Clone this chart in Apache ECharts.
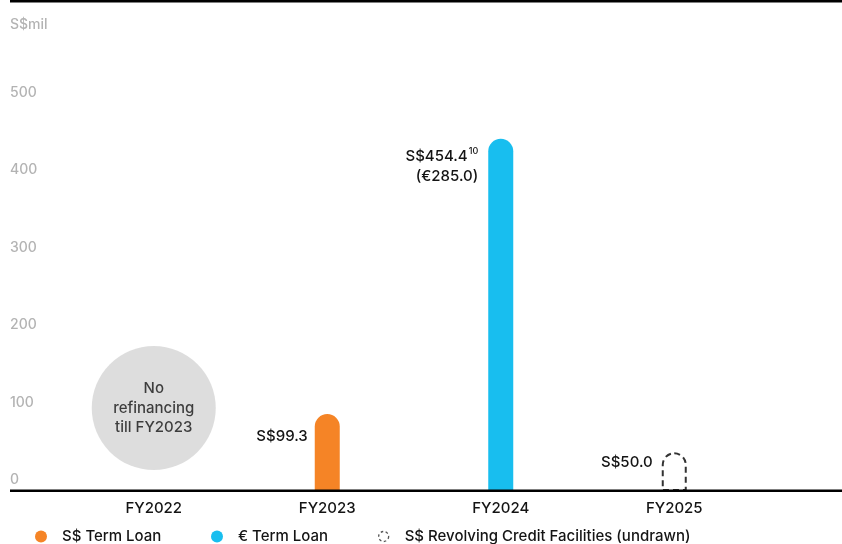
<!DOCTYPE html>
<html>
<head>
<meta charset="utf-8">
<style>
  html, body { margin: 0; padding: 0; background: #ffffff; }
  #chart { width: 842px; height: 544px; }
</style>
<script src="https://cdn.jsdelivr.net/npm/echarts@6/dist/echarts.min.js"></script>
</head>
<body>
<div id="chart"></div>
<script>
// Debt maturity profile, S$ million
const categories = ['FY2022', 'FY2023', 'FY2024', 'FY2025'];
const sgdTermLoan = ['-', 99.3, '-', '-'];
const eurTermLoan = ['-', '-', 454.4, '-'];
const revolvingUndrawn = ['-', '-', '-', 50.0];
const eurTermLoanEuro = 285.0;
const yTicks = [0, 100, 200, 300, 400, 500];
const seriesNames = ['S$ Term Loan', '€ Term Loan', 'S$ Revolving Credit Facilities (undrawn)'];
const noteText = 'No\nrefinancing\ntill FY2023';
const notePoint = ['FY2022', 107];

const FONT = 'Inter, "Noto Sans", sans-serif';
const INK = '#141414';
const chart = echarts.init(document.getElementById('chart'));

const legendBase = {
  top: 529, padding: 0, itemWidth: 32, itemHeight: 12, icon: 'circle',
  textStyle: { fontFamily: FONT, fontSize: 15, fontWeight: 500, color: INK },
  selectedMode: false
};

chart.setOption({
  animation: false,
  textStyle: { fontFamily: FONT },
  title: {
    text: 'S$mil', left: 10, top: 18, padding: 0,
    textStyle: { fontFamily: FONT, fontSize: 14, fontWeight: 500, color: '#b3b3b3' }
  },
  grid: { left: 67, right: 81, top: 103.5, bottom: 53 },
  xAxis: {
    type: 'category', data: categories,
    axisLine: { show: false }, axisTick: { show: false },
    axisLabel: { margin: 10, fontSize: 15, fontWeight: 500, color: INK, fontFamily: FONT }
  },
  yAxis: {
    type: 'value', min: yTicks[0], max: yTicks[yTicks.length - 1], interval: 100,
    axisLine: { show: false }, axisTick: { show: false }, splitLine: { show: false },
    axisLabel: {
      align: 'left', margin: 57, verticalAlign: 'bottom', padding: [0, 0, 4, 0],
      fontSize: 14, fontWeight: 500, color: '#b3b3b3', fontFamily: FONT
    }
  },
  legend: [
    Object.assign({ left: 35, data: [seriesNames[0]] }, legendBase),
    Object.assign({ left: 211, data: [seriesNames[1]] }, legendBase),
    Object.assign({
      left: 378,
      data: [{
        name: seriesNames[2], icon: 'circle',
        itemStyle: { color: '#ffffff', borderColor: '#555555', borderWidth: 1.3, borderType: [2.5, 2.5] }
      }]
    }, legendBase, { itemHeight: 10 })
  ],
  graphic: [
    { type: 'rect', left: 10, top: 0, shape: { width: 832, height: 2.5 }, style: { fill: '#000' }, z: 10 },
    { type: 'rect', left: 10, top: 489.5, shape: { width: 832, height: 2.5 }, style: { fill: '#000' }, z: 10 }
  ],
  series: [
    {
      name: 'note', type: 'scatter', data: [notePoint], symbolSize: 124, silent: true,
      itemStyle: { color: '#d4d4d4' },
      label: {
        show: true, position: 'inside', formatter: noteText,
        fontSize: 15, fontWeight: 500, lineHeight: 19.5, color: INK, fontFamily: FONT
      }
    },
    {
      name: seriesNames[0], type: 'bar', stack: 'debt', barWidth: 25, data: sgdTermLoan,
      itemStyle: { color: '#F58426', borderRadius: [12.5, 12.5, 0, 0] },
      label: {
        show: true, position: [-7, 22], align: 'right', verticalAlign: 'middle',
        formatter: p => 'S$' + p.value.toFixed(1),
        fontSize: 15, fontWeight: 500, color: INK, fontFamily: FONT
      }
    },
    {
      name: seriesNames[1], type: 'bar', stack: 'debt', barWidth: 25, data: eurTermLoan,
      itemStyle: { color: '#18BEEF', borderRadius: [12.5, 12.5, 0, 0] },
      label: {
        show: true, position: [-10, 28], align: 'right', verticalAlign: 'middle',
        formatter: p => '{a|S$' + p.value.toFixed(1) + '}{s|10}\n{a|(€' + eurTermLoanEuro.toFixed(1) + ')}',
        rich: {
          a: { fontSize: 15, fontWeight: 500, lineHeight: 20, color: INK, fontFamily: FONT },
          s: { fontSize: 9, fontWeight: 500, lineHeight: 20, color: INK, fontFamily: FONT, verticalAlign: 'top', padding: [0, 0, 8, 1] }
        }
      }
    },
    {
      name: seriesNames[2], type: 'bar', stack: 'debt', barWidth: 25, data: revolvingUndrawn,
      itemStyle: {
        color: '#ffffff', borderColor: '#333333', borderWidth: 2, borderType: [6, 4],
        borderRadius: [12.5, 12.5, 0, 0]
      },
      label: {
        show: true, position: [-9, 10], align: 'right', verticalAlign: 'middle',
        formatter: p => 'S$' + p.value.toFixed(1),
        fontSize: 15, fontWeight: 500, color: INK, fontFamily: FONT
      }
    }
  ]
});
</script>
</body>
</html>
